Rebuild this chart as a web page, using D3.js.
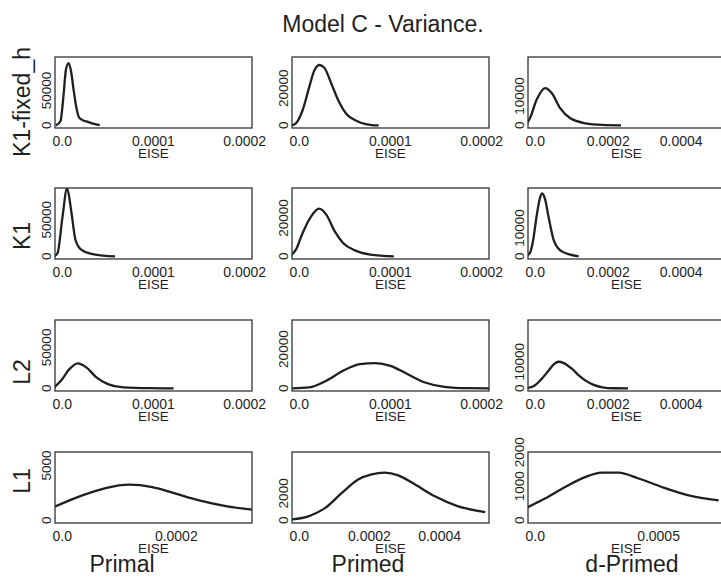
<!DOCTYPE html>
<html>
<head>
<meta charset="utf-8">
<script src="https://cdn.jsdelivr.net/npm/d3@7"></script>
<style>
  body { margin: 0; background: #fff; }
  svg { display: block; font-family: "Liberation Sans", Arial, Helvetica, sans-serif; }
</style>
</head>
<body>
<svg width="721" height="579"></svg>
<script>
// names of rows (model) and columns (prime type)
const rowNames = ['K1-fixed_h', 'K1', 'L2', 'L1'];
const colNames = ['Primal', 'Primed', 'd-Primed'];

// density curves, [EISE, density]
const k1fixedPrimal = [[-7e-6,0],[-2e-6,6000],[1.5e-6,45000],[4e-6,80000],[7e-6,89000],[9.5e-6,78000],[12.5e-6,50000],[15.5e-6,25000],[18.5e-6,11000],[23e-6,7000],[28e-6,5000],[34e-6,2500],[41e-6,300]];
const k1fixedPrimed = [[-8.5e-6,0],[-3.7e-6,1100],[3.7e-6,8300],[11e-6,20900],[16.7e-6,29900],[22.2e-6,32600],[27.8e-6,30900],[35e-6,22700],[42.6e-6,13700],[51.9e-6,6000],[63e-6,2400],[74e-6,600],[87e-6,0]];
const k1fixedDPrimed = [[-27e-6,0],[-14.7e-6,2400],[3.6e-6,8700],[27e-6,12700],[45e-6,11000],[68.6e-6,5800],[96e-6,2400],[138e-6,700],[184e-6,150],[235e-6,0]];

const k1Primal = [[-8.9e-6,0],[-5.2e-6,4600],[0.3e-6,54500],[5.2e-6,93000],[9.6e-6,63600],[14.4e-6,22700],[20.7e-6,9100],[31.9e-6,3300],[44.8e-6,1000],[57.8e-6,0]];
const k1Primed = [[-9.3e-6,500],[-3.7e-6,3500],[3.7e-6,12200],[13e-6,20800],[21.5e-6,24800],[29.6e-6,21700],[38.9e-6,13000],[48e-6,7000],[61e-6,3100],[77.8e-6,900],[103.7e-6,0]];
const k1DPrimed = [[-28.6e-6,0],[-14.7e-6,1200],[-5.6e-6,5900],[3.6e-6,14100],[13e-6,20600],[19e-6,22100],[27e-6,20000],[36e-6,14100],[50e-6,5900],[68.6e-6,2100],[96e-6,600],[119e-6,0]];

const l2Primal = [[-8.9e-6,1200],[-1.5e-6,9300],[7.8e-6,23500],[17e-6,30500],[26.3e-6,25600],[37.4e-6,13400],[50e-6,5200],[67e-6,1200],[96.7e-6,200],[122e-6,0]];
const l2Primed = [[-9.3e-6,0],[11e-6,500],[29.6e-6,3900],[48e-6,9000],[66.7e-6,12400],[83.3e-6,12900],[100e-6,11500],[118.5e-6,7300],[137e-6,3100],[159e-6,800],[185e-6,100],[211e-6,0]];
const l2DPrimed = [[-28.6e-6,0],[-5e-6,800],[15e-6,3200],[36e-6,6600],[52e-6,9200],[64e-6,10000],[78e-6,9500],[101e-6,7300],[120e-6,4800],[138e-6,2900],[160e-6,1300],[184e-6,400],[215e-6,50],[254e-6,0]];

const l1Primal = [[-14.6e-6,1210],[35e-6,2270],[76e-6,2940],[117e-6,3250],[158e-6,3030],[199e-6,2430],[240e-6,1820],[287e-6,1300],[333e-6,970]];
const l1Primed = [[-21.7e-6,70],[28e-6,320],[75e-6,940],[122e-6,2050],[169e-6,3040],[206e-6,3400],[244e-6,3530],[282e-6,3330],[329e-6,2670],[385e-6,1800],[451e-6,1060],[530e-6,615]];
const l1DPrimed = [[-42e-6,344],[39e-6,640],[121e-6,980],[202e-6,1270],[270e-6,1400],[337e-6,1400],[419e-6,1230],[513e-6,980],[622e-6,735],[744e-6,590]];

const curves = [
  [k1fixedPrimal, k1fixedPrimed, k1fixedDPrimed],
  [k1Primal, k1Primed, k1DPrimed],
  [l2Primal, l2Primed, l2DPrimed],
  [l1Primal, l1Primed, l1DPrimed]
];

// axis limits (before the usual 4% padding)
const xMax = [
  [0.0002, 0.0002, 0.0005],
  [0.0002, 0.0002, 0.0005],
  [0.0002, 0.0002, 0.0005],
  [0.00032, 0.00052, 0.00074]
];
const yMax = [
  [94000, 35500, 22400],
  [89600, 34200, 23100],
  [80200, 33500, 24700],
  [5980, 4870, 1930]
];

// tick labels
const xTicks = [
  [[0, 0.0001, 0.0002], [0, 0.0001, 0.0002], [0, 0.0002, 0.0004]],
  [[0, 0.0001, 0.0002], [0, 0.0001, 0.0002], [0, 0.0002, 0.0004]],
  [[0, 0.0001, 0.0002], [0, 0.0001, 0.0002], [0, 0.0002, 0.0004]],
  [[0, 0.0002], [0, 0.0002, 0.0004], [0, 0.0005]]
];
const yTicks = [
  [[0, 50000], [0, 20000], [0, 10000]],
  [[0, 50000], [0, 20000], [0, 10000]],
  [[0, 50000], [0, 20000], [0, 10000]],
  [[0, 5000], [0, 2000], [0, 1000, 2000]]
];

const svg = d3.select('svg');
const ink = '#1f1f1f';

// panel grid
const boxLeft = [55, 292, 528];
const boxTop = [57, 188, 320, 452];
const boxW = 197, boxH = 71;
const rowLabelY = [102, 236, 372, 481];
const colLabelX = [122, 368, 632];

const fmtX = d => d === 0 ? '0.0' : d3.format('.4f')(d).replace(/0+$/, '');

svg.append('text')
  .attr('x', 383).attr('y', 32)
  .attr('text-anchor', 'middle')
  .attr('font-size', 23)
  .attr('fill', ink)
  .text('Model C - Variance.');

rowNames.forEach((rn, r) => {
  svg.append('text')
    .attr('transform', `translate(30,${rowLabelY[r]}) rotate(-90)`)
    .attr('text-anchor', 'middle')
    .attr('font-size', 23)
    .attr('fill', ink)
    .text(rn);

  colNames.forEach((cn, c) => {
    const x0 = boxLeft[c], y0 = boxTop[r];
    const xs = d3.scaleLinear()
      .domain([-0.04 * xMax[r][c], 1.04 * xMax[r][c]])
      .range([x0, x0 + boxW]);
    const ys = d3.scaleLinear()
      .domain([-0.04 * yMax[r][c], 1.04 * yMax[r][c]])
      .range([y0 + boxH, y0]);

    const clipId = `clip-${r}-${c}`;
    svg.append('clipPath').attr('id', clipId)
      .append('rect')
      .attr('x', x0).attr('y', y0).attr('width', boxW).attr('height', boxH);

    const line = d3.line()
      .x(d => xs(d[0]))
      .y(d => ys(d[1]))
      .curve(d3.curveMonotoneX);

    svg.append('path')
      .datum(curves[r][c])
      .attr('clip-path', `url(#${clipId})`)
      .attr('d', line)
      .attr('fill', 'none')
      .attr('stroke', ink)
      .attr('stroke-width', 2.3)
      .attr('stroke-linejoin', 'round');

    svg.append('rect')
      .attr('x', x0).attr('y', y0).attr('width', boxW).attr('height', boxH)
      .attr('fill', 'none')
      .attr('stroke', '#333')
      .attr('stroke-width', 1.3);

    // x tick labels
    svg.selectAll(null)
      .data(xTicks[r][c])
      .join('text')
      .attr('x', d => xs(d))
      .attr('y', y0 + boxH + 18)
      .attr('text-anchor', 'middle')
      .attr('font-size', 14)
      .attr('fill', ink)
      .text(fmtX);

    svg.append('text')
      .attr('x', x0 + boxW / 2)
      .attr('y', y0 + boxH + 30)
      .attr('text-anchor', 'middle')
      .attr('font-size', 13.5)
      .attr('fill', ink)
      .text('EISE');

    // y tick labels, parallel to the axis
    svg.selectAll(null)
      .data(yTicks[r][c])
      .join('text')
      .attr('transform', d => `translate(${x0 - 4.5},${ys(d)}) rotate(-90)`)
      .attr('text-anchor', 'middle')
      .attr('font-size', 13.5)
      .attr('fill', ink)
      .text(d => String(d));
  });
});

colNames.forEach((cn, c) => {
  svg.append('text')
    .attr('x', colLabelX[c]).attr('y', 572)
    .attr('text-anchor', 'middle')
    .attr('font-size', 23)
    .attr('fill', ink)
    .text(cn);
});
</script>
</body>
</html>
